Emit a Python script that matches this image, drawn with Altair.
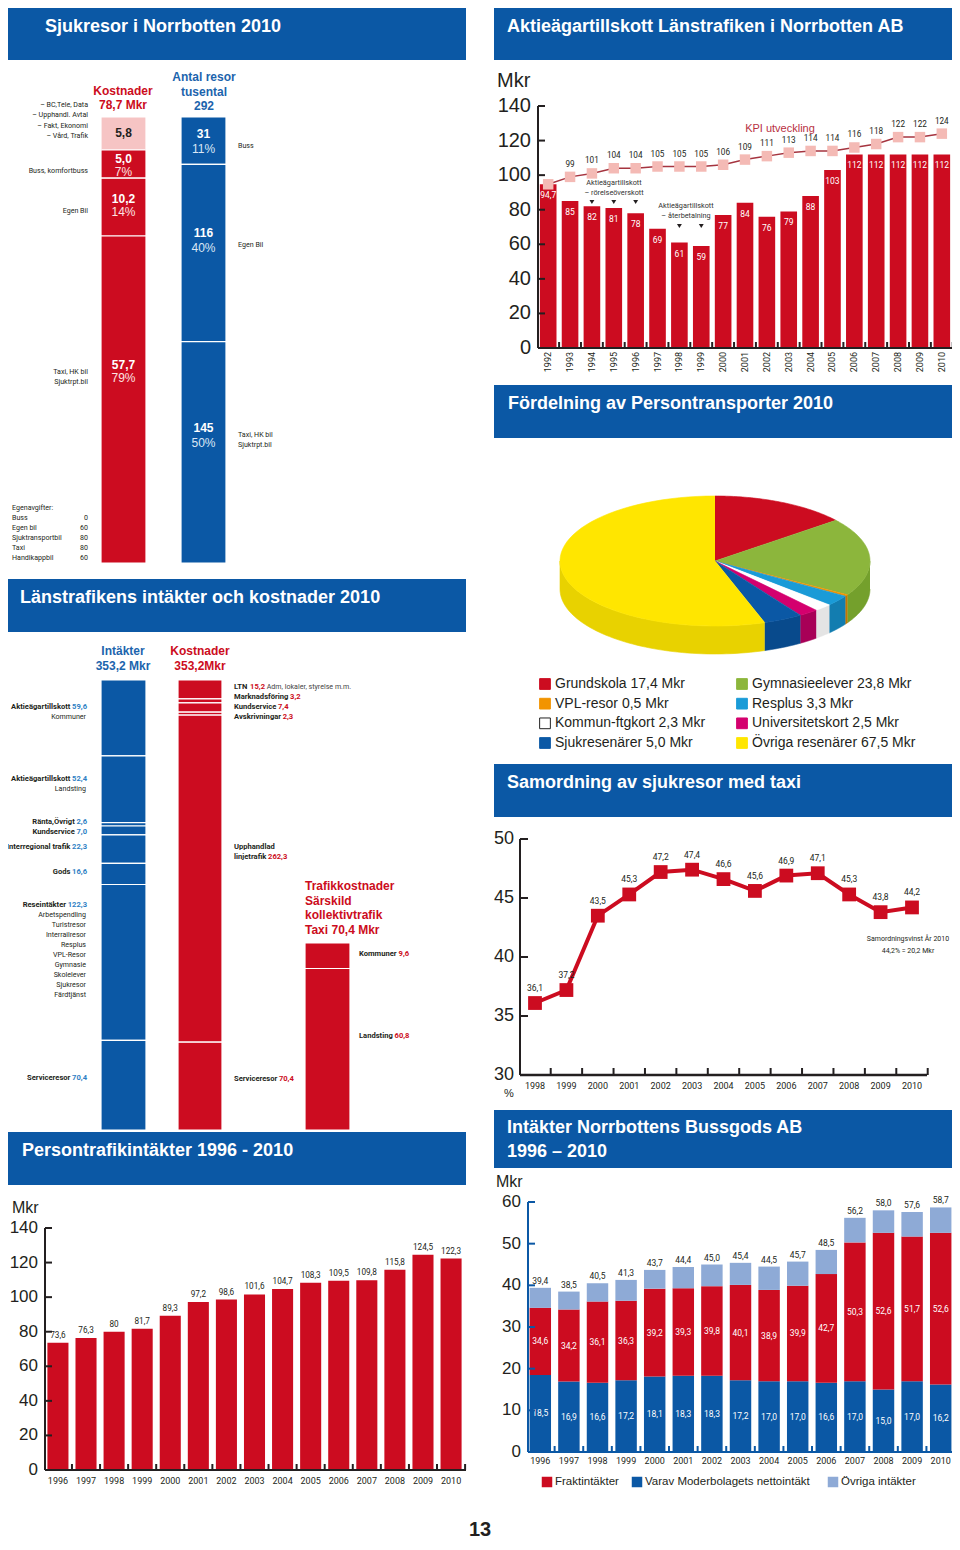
import altair as alt
import pandas as pd

# ---------------- data ----------------
sj_cost_names = ["– BC,Tele, Data\n– Upphandl. Avtal\n– Fakt, Ekonomi\n– Vård, Trafik",
                 "Buss, komfortbuss", "Egen Bil", "Taxi, HK bil\nSjuktrpt.bil"]
sj_cost_vals = [5.8, 5.0, 10.2, 57.7]
sj_cost_pct = ["", "7%", "14%", "79%"]
sj_trip_names = ["Buss", "Egen Bil", "Taxi, HK bil\nSjuktrpt.bil"]
sj_trip_vals = [31, 116, 145]
sj_trip_pct = ["11%", "40%", "50%"]
egen_names = ["Buss", "Egen bil", "Sjuktransportbil", "Taxi", "Handikappbil"]
egen_vals = [0, 60, 80, 80, 60]

akt_years = list(range(1992, 2011))
akt_vals = [94.7, 85, 82, 81, 78, 69, 61, 59, 77, 84, 76, 79, 88, 103, 112, 112, 112, 112, 112]
kpi_vals = [94.7, 99, 101, 104, 104, 105, 105, 105, 106, 109, 111, 113, 114, 114, 116, 118, 122, 122, 124]
overskott_years = [1994, 1995, 1996]
aterbet_years = [1998, 1999]

pie_names = ["Grundskola", "Gymnasieelever", "VPL-resor", "Resplus", "Kommun-ftgkort",
             "Universitetskort", "Sjukresenärer", "Övriga resenärer"]
pie_vals = [17.4, 23.8, 0.5, 3.3, 2.3, 2.5, 5.0, 67.5]

int_names = ["Aktieägartillskott", "Aktieägartillskott", "Ränta,Övrigt", "Kundservice",
             "Interregional trafik", "Gods", "Reseintäkter", "Serviceresor"]
int_vals = [59.6, 52.4, 2.6, 7.0, 22.3, 16.6, 122.3, 70.4]
int_subs = ["Kommuner", "Landsting", "", "", "", "",
            "Arbetspendling\nTuristresor\nInterrailresor\nResplus\nVPL-Resor\nGymnasie\nSkolelever\nSjukresor\nFärdtjänst",
            ""]
kost_names = ["LTN", "Marknadsföring", "Kundservice", "Avskrivningar", "Upphandlad\nlinjetrafik", "Serviceresor"]
kost_vals = [15.2, 3.2, 7.4, 2.3, 262.3, 70.4]
kost_extra = ["Adm, lokaler, styrelse m.m.", "", "", "", "", ""]
taxi_names = ["Kommuner", "Landsting"]
taxi_vals = [9.6, 60.8]

sam_years = list(range(1998, 2011))
sam_vals = [36.1, 37.2, 43.5, 45.3, 47.2, 47.4, 46.6, 45.6, 46.9, 47.1, 45.3, 43.8, 44.2]

pti_years = list(range(1996, 2011))
pti_vals = [73.6, 76.3, 80, 81.7, 89.3, 97.2, 98.6, 101.6, 104.7, 108.3, 109.5, 109.8, 115.8, 124.5, 122.3]

bg_years = list(range(1996, 2011))
bg_moder = [18.5, 16.9, 16.6, 17.2, 18.1, 18.3, 18.3, 17.2, 17.0, 17.0, 16.6, 17.0, 15.0, 17.0, 16.2]
bg_frakt = [34.6, 34.2, 36.1, 36.3, 39.2, 39.3, 39.8, 40.1, 38.9, 39.9, 42.7, 50.3, 52.6, 51.7, 52.6]
bg_total = [39.4, 38.5, 40.5, 41.3, 43.7, 44.4, 45.0, 45.4, 44.5, 45.7, 48.5, 56.2, 58.0, 57.6, 58.7]

# ---------------- style ----------------
W, H = 944, 1534
BLUE = "#0b58a5"
RED = "#cc0c20"
PINK = "#f6c4c4"
LBLUE = "#8eaad6"
DARK = "#231f20"
VBLUE = "#2f7fc4"
KPI_LINE = "#a5343f"
KPI_SQ = "#f4bab5"
pie_colors = ["#cc0c20", "#8cb63c", "#f29400", "#1a9bd7", "#ffffff", "#d4006e", "#0b58a5", "#ffe600"]
pie_walls = ["#a30a1a", "#74a02c", "#c47600", "#137db0", "#e4e4e4", "#a80057", "#084a8c", "#e8d200"]
FT = "'Liberation Sans', Arial, Helvetica, sans-serif"
FN = "Roboto, 'Liberation Sans', sans-serif"
SB = 7.6   # bold small label size
SR = 7.1   # regular small label size
LH = 10
SJ_ANCHOR = 0.40   # where inside a segment its label sits (fraction from the top)
LT_ANCHOR = 0.42

# approximate advance widths (em) of Roboto Bold, used only to place coloured value after a label
RB = {" ": .243, ",": .216, ".": .27, "-": .28,
      "A": .65, "L": .53, "N": .70, "T": .60, "M": .85, "K": .62, "G": .67, "R": .61, "S": .59,
      "U": .64, "I": .28, "Ä": .65, "Ö": .69, "O": .69,
      "a": .53, "b": .55, "c": .51, "d": .55, "e": .53, "f": .35, "g": .56, "h": .54, "i": .25,
      "j": .25, "k": .52, "l": .25, "m": .86, "n": .54, "o": .56, "p": .55, "r": .35, "s": .51,
      "t": .33, "u": .54, "v": .49, "w": .72, "y": .48, "z": .49, "ä": .53, "ö": .56, "å": .53}


def tw(s, size):
    return 1.02 * size * sum(RB.get(ch, .5615) for ch in s)


def X(p):
    return p - 8


def Y(p):
    return p - 8


def fmt_c(v):
    return f"{v:.1f}".replace(".", ",")


def fmt_g(v):
    return str(int(v)) if float(v).is_integer() else fmt_c(v)


ONE = pd.DataFrame({"d": [0]})
PXS = alt.Scale(domain=[0, W], range=[0, W], nice=False, zero=False)
layers = []


def T(text, x, y, size=SR, color=DARK, font=FN, weight="normal", align="left",
      baseline="middle", angle=None, lh=None):
    """y is the centre of the first line"""
    kw = dict(text=text, font=font, fontSize=size, fontWeight=weight, color=color,
              align=align, baseline=baseline, lineBreak="\n", lineHeight=lh if lh else size + 3)
    if angle is not None:
        kw["angle"] = angle
    layers.append(alt.Chart(ONE).mark_text(**kw).encode(x=alt.value(X(x)), y=alt.value(Y(y))))


def R(x0, y0, x1, y1, fill):
    layers.append(alt.Chart(ONE).mark_rect(color=fill).encode(
        x=alt.value(X(x0)), x2=alt.value(X(x1)), y=alt.value(Y(y0)), y2=alt.value(Y(y1))))


def header(x0, y0, x1, y1, title, tx, ty, lh=None):
    R(x0, y0, x1, y1, BLUE)
    T(title, tx, ty, size=18, color="white", font=FT, weight="bold", lh=lh)


def tl(df, x, y, field, color=DARK, **mk):
    mk.setdefault("font", FN)
    mk.setdefault("fontSize", SR)
    mk.setdefault("baseline", "middle")
    mk.setdefault("lineBreak", "\n")
    mk.setdefault("lineHeight", LH)
    enc = {"x": x, "y": y, "text": alt.Text(field)}
    if isinstance(color, str):
        mk["color"] = color
    else:
        enc["color"] = color
    layers.append(alt.Chart(df).mark_text(**mk).encode(**enc))


def spread(centers, heights):
    blocks = []
    for i in range(len(centers)):
        blocks.append({"idx": [i], "top": centers[i] - heights[i] / 2})
        while len(blocks) > 1:
            a, b = blocks[-2], blocks[-1]
            if a["top"] + sum(heights[j] for j in a["idx"]) > b["top"]:
                idx = a["idx"] + b["idx"]
                off, cand = 0.0, []
                for j in idx:
                    cand.append(centers[j] - off - heights[j] / 2)
                    off += heights[j]
                blocks[-2:] = [{"idx": idx, "top": sum(cand) / len(cand)}]
            else:
                break
    tops = [0.0] * len(centers)
    for b in blocks:
        t = b["top"]
        for j in b["idx"]:
            tops[j] = t
            t += heights[j]
    return tops


def col_stack(names, vals, key, x0, x1, y0, y1, cols, anchor):
    df = pd.DataFrame({"name": names, "v": [float(v) for v in vals], "col": cols})
    df["cat"] = key
    df["bot"] = df["v"].cumsum()
    df["top"] = df["bot"] - df["v"]
    df["mid"] = (df["top"] + df["bot"]) / 2
    df["anc"] = df["top"] + anchor * df["v"]
    total = float(df["v"].sum())
    xs = alt.Scale(type="band", domain=[key], range=[X(x0), X(x1)], paddingInner=0, paddingOuter=0)
    ys = alt.Scale(domain=[0, total], range=[Y(y0), Y(y1)], nice=False, zero=False)
    layers.append(alt.Chart(df).mark_bar(stroke="white", strokeWidth=1.2).encode(
        x=alt.X("cat:N", scale=xs, axis=None),
        y=alt.Y("top:Q", scale=ys, axis=None), y2="bot:Q",
        color=alt.Color("col:N", scale=None, legend=None)))
    return df, xs, ys, (y1 - y0) / total


def y_axis(ys, ticks, x_line, tick_len, label_x, size, line_color=DARK):
    tdf = pd.DataFrame({"t": ticks, "s": [str(t) for t in ticks]})
    ldf = pd.DataFrame({"a": [ticks[0]], "b": [ticks[-1]]})
    layers.append(alt.Chart(ldf).mark_rule(color=line_color, strokeWidth=2).encode(
        x=alt.value(X(x_line)), y=alt.Y("a:Q", scale=ys, axis=None), y2="b:Q"))
    layers.append(alt.Chart(tdf).mark_rule(color=line_color, strokeWidth=2).encode(
        x=alt.value(X(x_line)), x2=alt.value(X(x_line + tick_len)), y=alt.Y("t:Q", scale=ys, axis=None)))
    layers.append(alt.Chart(tdf).mark_text(align="right", baseline="middle", font=FT, fontSize=size,
                                           color=DARK).encode(
        x=alt.value(X(label_x)), y=alt.Y("t:Q", scale=ys, axis=None), text="s:N"))


def band_x_axis(df, field, xs, base_px, x0, x1, gap, color=DARK, up=6):
    layers.append(alt.Chart(ONE).mark_rule(color=color, strokeWidth=2).encode(
        x=alt.value(X(x0)), x2=alt.value(X(x1)), y=alt.value(Y(base_px))))
    layers.append(alt.Chart(df).mark_rule(color=color, strokeWidth=2, xOffset=gap / 2).encode(
        x=alt.X(f"{field}:N", scale=xs, axis=None, bandPosition=1),
        y=alt.value(Y(base_px)), y2=alt.value(Y(base_px - up))))


def nlines(s):
    return s.count("\n") + 1


def name_value_left(df, x0, ys, ufield, ppu, value_color):
    """bold black name followed by a bold coloured value, left aligned at page x0"""
    last = [n.split("\n")[-1] for n in df["name"]]
    df["vx"] = [X(x0) + tw(l + " ", SB) for l in last]
    df["v_u"] = [u + (nlines(n) - 1) * LH / ppu for u, n in zip(df[ufield], df["name"])]
    tl(df, alt.value(X(x0)), alt.Y(f"{ufield}:Q", scale=ys, axis=None), "name:N", color=DARK,
       align="left", fontWeight="bold", fontSize=SB)
    tl(df, alt.X("vx:Q", scale=PXS, axis=None), alt.Y("v_u:Q", scale=ys, axis=None), "vs:N",
       color=value_color, align="left", fontWeight="bold", fontSize=SB)


def sj_positions(df, pct, ppu):
    # value line: 40 % down the segment (2 px higher); a lone value sits in the middle
    df["val_u"] = [m if p == "" else a - 2 / ppu for a, m, p in zip(df["anc"], df["mid"], pct)]
    df["nm_u"] = [u + ((12 if p else -13) - (nlines(n) - 1) * 10.5 / 2) / ppu
                  for u, n, p in zip(df["val_u"], df["name"], pct)]


# =============== Panel 1: Sjukresor ===============
header(8, 8, 466, 60, "Sjukresor i Norrbotten 2010", 45, 27)
cdf, cxs, cys, cppu = col_stack(sj_cost_names, sj_cost_vals, "Kostnader", 101, 146, 117, 563,
                                [PINK, RED, RED, RED], SJ_ANCHOR)
cdf["vs"] = [fmt_c(v) for v in sj_cost_vals]
cdf["pct"] = sj_cost_pct
sj_positions(cdf, sj_cost_pct, cppu)
CX = alt.X("cat:N", scale=cxs, axis=None)
CY = alt.Y("val_u:Q", scale=cys, axis=None)
tl(cdf[cdf.pct == ""], CX, CY, "vs:N", color=DARK, font=FT, fontSize=12, fontWeight="bold")
tl(cdf[cdf.pct != ""], CX, CY, "vs:N", color="white", font=FT, fontSize=12, fontWeight="bold")
tl(cdf[cdf.pct != ""], CX, CY, "pct:N", color="#fde3e3", font=FT, fontSize=12, dy=13)
tl(cdf, alt.value(X(88)), alt.Y("nm_u:Q", scale=cys, axis=None), "name:N", align="right", lineHeight=10.5)

tdf_, txs_, tys_, tppu_ = col_stack(sj_trip_names, sj_trip_vals, "Antal", 181, 226, 117, 563, [BLUE] * 3,
                                    SJ_ANCHOR)
tdf_["vs"] = [str(v) for v in sj_trip_vals]
tdf_["pct"] = sj_trip_pct
sj_positions(tdf_, sj_trip_pct, tppu_)
TX = alt.X("cat:N", scale=txs_, axis=None)
TY = alt.Y("val_u:Q", scale=tys_, axis=None)
tl(tdf_, TX, TY, "vs:N", color="white", font=FT, fontSize=12, fontWeight="bold")
tl(tdf_, TX, TY, "pct:N", color="#dbe7f5", font=FT, fontSize=12, dy=15)
tl(tdf_, alt.value(X(238)), alt.Y("nm_u:Q", scale=tys_, axis=None), "name:N", align="left", lineHeight=10.5)

T("Kostnader\n" + fmt_c(sum(sj_cost_vals)) + " Mkr", 123, 91, size=12, color=RED, font=FT,
  weight="bold", align="center", lh=14)
T("Antal resor\ntusental\n" + str(sum(sj_trip_vals)), 204, 77, size=12, color="#1c64ad", font=FT,
  weight="bold", align="center", lh=14.5)

eg = pd.DataFrame({"name": egen_names, "vs": [str(v) for v in egen_vals], "r": list(range(len(egen_names)))})
eys = alt.Scale(domain=[0, len(egen_names) - 1], range=[Y(518), Y(558)], nice=False, zero=False)
T("Egenavgifter:", 12, 508)
tl(eg, alt.value(X(12)), alt.Y("r:Q", scale=eys, axis=None), "name:N", align="left")
tl(eg, alt.value(X(88)), alt.Y("r:Q", scale=eys, axis=None), "vs:N", align="right")

# =============== Panel 2: Aktieägartillskott ===============
header(494, 8, 952, 60, "Aktieägartillskott Länstrafiken i Norrbotten AB", 507, 27)
ak = pd.DataFrame({"year": [str(y) for y in akt_years], "v": akt_vals, "kpi": kpi_vals})
ak["vl"] = [fmt_g(v) for v in akt_vals]
ak["kl"] = [""] + [fmt_g(v) for v in kpi_vals[1:]]
axs = alt.Scale(type="band", domain=ak["year"].tolist(), range=[X(539), X(951)],
                paddingInner=0.24, paddingOuter=0.04)
ays = alt.Scale(domain=[0, 140], range=[Y(348), Y(106)], nice=False, zero=False)
AX = alt.X("year:N", scale=axs, axis=None)
layers.append(alt.Chart(ak).mark_bar(color=RED).encode(x=AX, y=alt.Y("v:Q", scale=ays, axis=None)))
tl(ak, AX, alt.Y("v:Q", scale=ays, axis=None), "vl:N", color="white", dy=11, fontSize=8.5)
layers.append(alt.Chart(ak).mark_line(color=KPI_LINE, strokeWidth=1.5).encode(
    x=AX, y=alt.Y("kpi:Q", scale=ays, axis=None)))
layers.append(alt.Chart(ak).mark_square(size=110, color=KPI_SQ, opacity=1).encode(
    x=AX, y=alt.Y("kpi:Q", scale=ays, axis=None)))
tl(ak, AX, alt.Y("kpi:Q", scale=ays, axis=None), "kl:N", color=DARK, dy=-12, fontSize=8.2)
y_axis(ays, list(range(0, 141, 20)), 538, 7, 531, 20)
band_x_axis(ak, "year", axs, 348, 538, 952, 5.2)
tl(ak, AX, alt.value(Y(352)), "year:N", color=DARK, angle=270, align="right", fontSize=9)
T("Mkr", 497, 81, size=20, font=FT)
T("KPI utveckling", 780, 129, size=11, color="#b8303f", font=FT, align="center")
T("Aktieägartillskott\n– rörelseöverskott", 614, 183, size=7.3, color="#333333", align="center", lh=10)
T("Aktieägartillskott\n– återbetalning", 686, 206, size=7.3, color="#333333", align="center", lh=10)
ov = pd.DataFrame({"year": [str(y) for y in overskott_years]})
at = pd.DataFrame({"year": [str(y) for y in aterbet_years]})
layers.append(alt.Chart(ov).mark_point(shape="triangle-down", filled=True, size=24, color=DARK, opacity=1).encode(
    x=AX, y=alt.value(Y(202))))
layers.append(alt.Chart(at).mark_point(shape="triangle-down", filled=True, size=24, color=DARK, opacity=1).encode(
    x=AX, y=alt.value(Y(226))))

# =============== Panel 3: Pie ===============
header(494, 385, 952, 438, "Fördelning av Persontransporter 2010", 508, 404)
pie = pd.DataFrame({"name": pie_names, "v": pie_vals, "ord": list(range(len(pie_vals))),
                    "col": pie_colors, "wcol": pie_walls})
PCX, PCY, PRX, PRY, DEPTH = 715, 561, 155, 65, 28
N = 60
D = DEPTH / PRY
pxs = alt.Scale(domain=[-1, 1], range=[X(PCX - PRX), X(PCX + PRX)], nice=False, zero=False)
pys = alt.Scale(domain=[-1, 1], range=[Y(PCY - PRY), Y(PCY + PRY)], nice=False, zero=False)
pie_base = alt.Chart(pie).transform_joinaggregate(total="sum(v)").transform_window(
    cum="sum(v)", sort=[alt.SortField("ord")], frame=[None, 0]
).transform_calculate(
    a0="2*PI*(datum.cum - datum.v)/datum.total",
    a1="2*PI*datum.cum/datum.total")
walls = pie_base.transform_calculate(
    w0="max(datum.a0, PI/2)", w1="min(datum.a1, 3*PI/2)"
).transform_filter("datum.w1 > datum.w0").transform_calculate(
    k=f"sequence(0, {2 * N + 2})"
).transform_flatten(["k"]).transform_calculate(
    t=f"datum.k <= {N} ? datum.k/{N} : ({2 * N + 1} - datum.k)/{N}"
).transform_calculate(
    ang="datum.w0 + (datum.w1 - datum.w0)*datum.t"
).transform_calculate(
    ux="sin(datum.ang)",
    uy=f"-cos(datum.ang) + (datum.k <= {N} ? 0 : {D})"
).mark_line(filled=True, strokeWidth=0.6).encode(
    x=alt.X("ux:Q", scale=pxs, axis=None), y=alt.Y("uy:Q", scale=pys, axis=None),
    order=alt.Order("k:Q"), detail="name:N",
    color=alt.Color("wcol:N", scale=None, legend=None),
    stroke=alt.Stroke("wcol:N", scale=None, legend=None))
layers.append(walls)
tops = pie_base.transform_calculate(k=f"sequence(0, {N + 2})").transform_flatten(["k"]).transform_calculate(
    t=f"datum.k == 0 ? 0 : (datum.k - 1)/{N}"
).transform_calculate(
    ang="datum.a0 + (datum.a1 - datum.a0)*datum.t"
).transform_calculate(
    ux="datum.k == 0 ? 0 : sin(datum.ang)",
    uy="datum.k == 0 ? 0 : -cos(datum.ang)"
).mark_line(filled=True, strokeWidth=0.6).encode(
    x=alt.X("ux:Q", scale=pxs, axis=None), y=alt.Y("uy:Q", scale=pys, axis=None),
    order=alt.Order("k:Q"), detail="name:N",
    color=alt.Color("col:N", scale=None, legend=None),
    stroke=alt.Stroke("col:N", scale=None, legend=None))
layers.append(tops)

pl = pie.copy()
pl["c"] = [i % 2 for i in range(len(pl))]
pl["r"] = [i // 2 for i in range(len(pl))]
pl["lab"] = [f"{n} {fmt_c(v)} Mkr" for n, v in zip(pie_names, pie_vals)]
pl["sc"] = ["#222222" if c == "#ffffff" else c for c in pie_colors]
lxs = alt.Scale(domain=[0, 1], range=[X(545), X(742)], nice=False, zero=False)
lys = alt.Scale(domain=[0, 3], range=[Y(684), Y(743)], nice=False, zero=False)
layers.append(alt.Chart(pl).mark_square(size=115, strokeWidth=1, opacity=1).encode(
    x=alt.X("c:Q", scale=lxs, axis=None), y=alt.Y("r:Q", scale=lys, axis=None),
    color=alt.Color("col:N", scale=None, legend=None),
    stroke=alt.Stroke("sc:N", scale=None, legend=None)))
tl(pl, alt.X("c:Q", scale=lxs, axis=None), alt.Y("r:Q", scale=lys, axis=None), "lab:N",
   color=DARK, font=FT, fontSize=14, align="left", dx=10)

# =============== Panel 4: Länstrafikens intäkter och kostnader ===============
header(8, 579, 466, 632, "Länstrafikens intäkter och kostnader 2010", 20, 598)
BTOP, BBOT = 680, 1130
idf, ixs, iys, ippu = col_stack(int_names, int_vals, "Intäkter", 101, 146, BTOP, BBOT, [BLUE] * len(int_vals),
                                LT_ANCHOR)
idf["vs"] = [fmt_c(v) for v in int_vals]
idf["sub"] = int_subs
idf["nx"] = [X(87) - tw(" " + s, SB) for s in idf["vs"]]
nsub = [0 if s == "" else nlines(s) for s in int_subs]
itops = spread([BTOP + a * ippu for a in idf["anc"]], [(1 + n) * LH for n in nsub])
idf["name_u"] = [(t + LH / 2 - BTOP) / ippu for t in itops]
idf["sub_u"] = [(t + 1.5 * LH - BTOP) / ippu for t in itops]
IYN = alt.Y("name_u:Q", scale=iys, axis=None)
tl(idf, alt.X("nx:Q", scale=PXS, axis=None), IYN, "name:N", color=DARK, align="right", fontWeight="bold",
   fontSize=SB)
tl(idf, alt.value(X(87)), IYN, "vs:N", color=VBLUE, align="right", fontWeight="bold", fontSize=SB)
tl(idf[idf["sub"] != ""], alt.value(X(86)), alt.Y("sub_u:Q", scale=iys, axis=None), "sub:N",
   color=DARK, align="right")

kdf, kxs, kys, kppu = col_stack(kost_names, kost_vals, "Kostnader", 178, 222, BTOP, BBOT, [RED] * len(kost_vals),
                                LT_ANCHOR)
kdf["vs"] = [fmt_c(v) for v in kost_vals]
kdf["extra"] = kost_extra
klines = [nlines(n) for n in kost_names]
ktops = spread([BTOP + a * kppu for a in kdf["anc"]], [l * LH for l in klines])
kdf["lab_u"] = [(t + LH / 2 - BTOP) / kppu for t in ktops]
name_value_left(kdf, 234, kys, "lab_u", kppu, RED)
kdf["ex"] = [vx + tw(v + " ", SB) for vx, v in zip(kdf["vx"], kdf["vs"])]
tl(kdf[kdf["extra"] != ""], alt.X("ex:Q", scale=PXS, axis=None), alt.Y("lab_u:Q", scale=kys, axis=None),
   "extra:N", color="#444444", align="left")

xdf, xxs, xys, xppu = col_stack(taxi_names, taxi_vals, "Taxi", 305, 350, 943, BBOT, [RED, RED], LT_ANCHOR)
xdf["vs"] = [fmt_c(v) for v in taxi_vals]
name_value_left(xdf, 359, xys, "anc", xppu, RED)

T("Intäkter\n" + fmt_c(sum(int_vals)) + " Mkr", 123, 651, size=12, color="#1c64ad", font=FT,
  weight="bold", align="center", lh=15)
T("Kostnader\n353,2Mkr", 200, 651, size=12, color=RED, font=FT, weight="bold", align="center", lh=15)
T("Trafikkostnader\nSärskild\nkollektivtrafik\nTaxi " + fmt_c(sum(taxi_vals)) + " Mkr", 305, 886,
  size=12, color=RED, font=FT, weight="bold", lh=14.7)

# =============== Panel 5: Samordning ===============
header(494, 764, 952, 817, "Samordning av sjukresor med taxi", 507, 783)
sd = pd.DataFrame({"year": sam_years, "v": sam_vals, "lab": [fmt_c(v) for v in sam_vals]})
sxs = alt.Scale(domain=[1998, 2010], range=[X(535), X(912)], nice=False, zero=False)
sys_ = alt.Scale(domain=[30, 50], range=[Y(1075), Y(839)], nice=False, zero=False)
SX = alt.X("year:Q", scale=sxs, axis=None)
SY = alt.Y("v:Q", scale=sys_, axis=None)
y_axis(sys_, [30, 35, 40, 45, 50], 520, 8, 514, 18)
layers.append(alt.Chart(ONE).mark_rule(color=DARK, strokeWidth=2.5).encode(
    x=alt.value(X(520)), x2=alt.value(X(927)), y=alt.value(Y(1075))))
stk = pd.DataFrame({"t": [y + 0.5 for y in sam_years]})
layers.append(alt.Chart(stk).mark_rule(color=DARK, strokeWidth=2).encode(
    x=alt.X("t:Q", scale=sxs, axis=None), y=alt.value(Y(1075)), y2=alt.value(Y(1068))))
layers.append(alt.Chart(sd).mark_line(color=RED, strokeWidth=4).encode(x=SX, y=SY))
layers.append(alt.Chart(sd).mark_square(size=190, color=RED, opacity=1).encode(x=SX, y=SY))
tl(sd, SX, SY, "lab:N", color=DARK, dy=-15, fontSize=8.5)
sd["ys"] = sd["year"].astype(str)
tl(sd, SX, alt.value(Y(1086)), "ys:N", color=DARK, fontSize=9, align="center")
T("%", 504, 1094, size=11, font=FT)
T("Samordningsvinst År 2010\n44,2% = 20,2 Mkr", 908, 939, size=7, align="center", lh=12)

# =============== Panel 6: Persontrafikintäkter ===============
header(8, 1132, 466, 1185, "Persontrafikintäkter 1996 - 2010", 22, 1151)
p6 = pd.DataFrame({"year": [str(y) for y in pti_years], "v": pti_vals, "lab": [fmt_g(v) for v in pti_vals]})
p6xs = alt.Scale(type="band", domain=p6["year"].tolist(), range=[X(46), X(463)], paddingInner=0.25,
                 paddingOuter=0.05)
p6ys = alt.Scale(domain=[0, 140], range=[Y(1470), Y(1228)], nice=False, zero=False)
P6X = alt.X("year:N", scale=p6xs, axis=None)
layers.append(alt.Chart(p6).mark_bar(color=RED).encode(x=P6X, y=alt.Y("v:Q", scale=p6ys, axis=None)))
tl(p6, P6X, alt.Y("v:Q", scale=p6ys, axis=None), "lab:N", color=DARK, dy=-7, fontSize=8.2)
y_axis(p6ys, list(range(0, 141, 20)), 45, 7, 38, 17)
band_x_axis(p6, "year", p6xs, 1470, 45, 466, 7.0)
tl(p6, P6X, alt.value(Y(1481)), "year:N", color=DARK, fontSize=9, align="center")
T("Mkr", 12, 1208, size=16, font=FT)

# =============== Panel 7: Bussgods ===============
header(494, 1110, 952, 1168, "Intäkter Norrbottens Bussgods AB\n1996 – 2010", 507, 1128, lh=24)
bg = pd.DataFrame({"year": [str(y) for y in bg_years], "m": bg_moder, "f": bg_frakt, "t": bg_total})
bg["ml"] = [fmt_c(v) for v in bg_moder]
bg["fl"] = [fmt_c(v) for v in bg_frakt]
bg["tl"] = [fmt_c(v) for v in bg_total]
bg["mm"] = bg["m"] / 2
bg["fm"] = (bg["m"] + bg["f"]) / 2
bxs = alt.Scale(type="band", domain=bg["year"].tolist(), range=[X(529), X(952)], paddingInner=0.25,
                paddingOuter=0.02)
bys = alt.Scale(domain=[0, 60], range=[Y(1452), Y(1202)], nice=False, zero=False)
BX = alt.X("year:N", scale=bxs, axis=None)
layers.append(alt.Chart(bg).mark_bar(color=BLUE).encode(x=BX, y=alt.Y("m:Q", scale=bys, axis=None)))
layers.append(alt.Chart(bg).mark_bar(color=RED).encode(x=BX, y=alt.Y("m:Q", scale=bys, axis=None), y2="f:Q"))
layers.append(alt.Chart(bg).mark_bar(color=LBLUE).encode(x=BX, y=alt.Y("f:Q", scale=bys, axis=None), y2="t:Q"))
tl(bg, BX, alt.Y("mm:Q", scale=bys, axis=None), "ml:N", color="white", fontSize=8.5)
tl(bg, BX, alt.Y("fm:Q", scale=bys, axis=None), "fl:N", color="white", fontSize=8.5)
tl(bg, BX, alt.Y("t:Q", scale=bys, axis=None), "tl:N", color=DARK, dy=-7, fontSize=8.5)
y_axis(bys, list(range(0, 61, 10)), 528, 7, 521, 17, line_color=BLUE)
band_x_axis(bg, "year", bxs, 1452, 528, 952, 7.2, color=BLUE)
tl(bg, BX, alt.value(Y(1461)), "year:N", color=DARK, fontSize=9, align="center")
T("Mkr", 496, 1182, size=16, font=FT)
for sx, col, lab in [(547, RED, "Fraktintäkter"), (637, BLUE, "Varav Moderbolagets nettointäkt"),
                     (833, LBLUE, "Övriga intäkter")]:
    layers.append(alt.Chart(ONE).mark_square(size=110, color=col, opacity=1).encode(
        x=alt.value(X(sx)), y=alt.value(Y(1482))))
    T(lab, sx + 8, 1482, size=11.5, font=FT)

# page number
T("13", 480, 1530, size=20, font=FT, weight="bold", align="center")

chart = alt.layer(*layers).resolve_scale(
    x="independent", y="independent", color="independent", stroke="independent"
).properties(
    width=W, height=H, autosize=alt.AutoSizeParams(type="none"), padding=0
).configure_view(stroke=None)

chart.save("out.html", embed_options={"renderer": "svg", "actions": False})
